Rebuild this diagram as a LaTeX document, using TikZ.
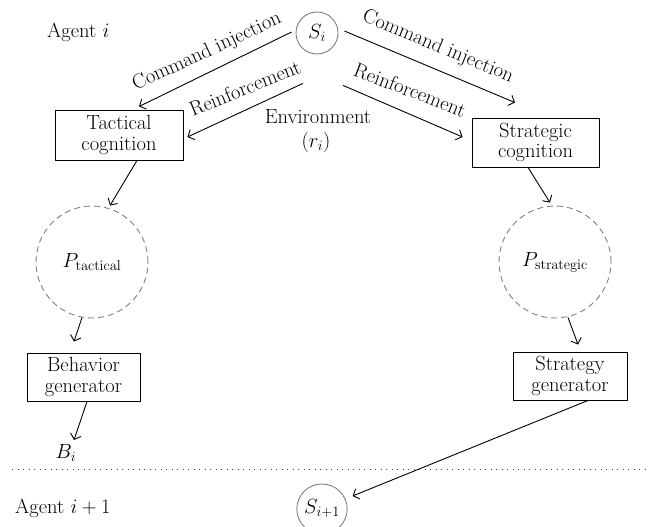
\RequirePackage{fix-cm}
\documentclass[tikz,border=0pt]{standalone}
\usetikzlibrary{arrows.meta,shapes.geometric}
\begin{document}
\begin{tikzpicture}[x=1pt,y=-1pt,
  every node/.style={font=\fontsize{20.5}{20.5}\selectfont},
  box/.style={draw,line width=0.9pt,align=center,inner sep=0pt},
  arr/.style={line width=0.9pt,-{Straight Barb[length=5pt,width=11pt,line width=0.9pt]}},
  lbl/.style={inner sep=0pt},
  pcirc/.style={circle,draw=black!50,dash pattern=on 6pt off 4pt,line width=0.9pt,minimum size=112pt,inner sep=0pt},
  scirc/.style={draw=black!55,line width=0.8pt,inner sep=0pt},
  sep/.style={black!75,line width=0.9pt,dash pattern=on 0.9pt off 4.6pt}
]
\useasboundingbox (0,0) rectangle (648,527);

% nodes
\node[scirc,circle,minimum size=42pt] (si) at (317,33) {$S_i$};
\node[box,minimum width=128pt,minimum height=50pt] (tac) at (119,135) {Tactical\\cognition};
\node[box,minimum width=127pt,minimum height=49pt] (strc) at (535.5,142.5) {Strategic\\cognition};
\node[pcirc] (ptac) at (92,262) {$P_{\mathrm{tactical}}$};
\node[pcirc] (pstr) at (555,262) {$P_{\mathrm{strategic}}$};
\node[box,minimum width=113pt,minimum height=48pt] (beh) at (83.5,377) {Behavior\\generator};
\node[box,minimum width=114pt,minimum height=48pt] (sgen) at (570,376) {Strategy\\generator};
\node[scirc,ellipse,minimum width=46pt,minimum height=50pt] (sip) at (322,509) {$S_{i+1}$};

\node[lbl,anchor=base west] (ag1) at (47,38) {Agent $i$};
\node[lbl,anchor=base west] (ag2) at (15,513) {Agent $i+1$};
\node[lbl,anchor=base] (bi) at (66,458) {$B_i$};
\node[lbl,anchor=base] (env) at (318,123) {Environment};
\node[lbl,anchor=base] (ri) at (316,147) {$(r_i)$};

\node[lbl,rotate=25] (lci) at (207,52) {Command injection};
\node[lbl,rotate=22] (lre) at (245,88) {Reinforcement};
\node[lbl,rotate=-22.5] (rci) at (438,47) {Command injection};
\node[lbl,rotate=-21] (rre) at (410,90) {Reinforcement};

% connectors
\draw[arr] ([xshift=-4pt,yshift=1pt]si.west) -- ([xshift=20pt,yshift=3pt]tac.north);
\draw[arr] ([xshift=-14pt,yshift=-29pt]si.south) -- ([xshift=4pt,yshift=-2pt]tac.east);
\draw[arr] ([xshift=6pt,yshift=2pt]si.east) -- ([xshift=-20.5pt,yshift=15pt]strc.north);
\draw[arr] ([xshift=26pt,yshift=-31pt]si.south) -- ([xshift=-9pt,yshift=5.5pt]strc.west);
\draw[arr] ([xshift=18pt]tac.south) -- ([xshift=18pt]ptac.north);
\draw[arr] ([xshift=-10pt,yshift=1pt]ptac.south) -- ([xshift=-9.5pt,yshift=11pt]beh.north);
\draw[arr] ([xshift=3.5pt]beh.south) -- ([xshift=8pt,yshift=18pt]bi.base);
\draw[arr] ([xshift=-7.5pt]strc.south) -- ([xshift=-5pt,yshift=3pt]pstr.north);
\draw[arr] ([xshift=13pt,yshift=1pt]pstr.south) -- ([xshift=8pt,yshift=7pt]sgen.north);
\draw[arr] ([xshift=18pt]sgen.south) -- ([xshift=5pt,yshift=13pt]sip.east);

% separator
\coordinate (dl) at (12,469);
\coordinate (dr) at (648,469);
\draw[sep] (dl) -- (dr);
\end{tikzpicture}
\end{document}
